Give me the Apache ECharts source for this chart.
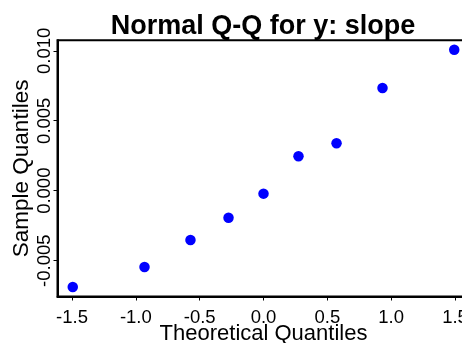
<!DOCTYPE html>
<html>
<head>
<meta charset="utf-8">
<script src="https://cdn.jsdelivr.net/npm/echarts@6/dist/echarts.min.js"></script>
<style>
html,body{margin:0;padding:0;background:#fff;}
#chart{width:462px;height:343px;}
</style>
</head>
<body>
<div id="chart"></div>
<script>
var theoretical = [-1.494, -0.932, -0.572, -0.274, 0, 0.274, 0.572, 0.932, 1.494];
var sample = [-0.00688, -0.00545, -0.00352, -0.00193, -0.00021, 0.00246, 0.00339, 0.00734, 0.01007];
var xTicks = [-1.5, -1.0, -0.5, 0.0, 0.5, 1.0, 1.5];
var yTicks = [-0.005, 0.000, 0.005, 0.010];
var titleText = 'Normal Q-Q for y: slope';
var xName = 'Theoretical Quantiles';
var yName = 'Sample Quantiles';

function pad(arr){
  var mn = Math.min.apply(null, arr), mx = Math.max.apply(null, arr);
  var d = (mx - mn) * 0.04;
  return [mn - d, mx + d];
}
var xr = pad(theoretical), yr = pad(sample);
var pts = theoretical.map(function(t, i){ return [t, sample[i]]; });

var font = 'Liberation Sans, Arial, sans-serif';
var chart = echarts.init(document.getElementById('chart'), null, {renderer:'canvas'});
chart.setOption({
  animation: false,
  backgroundColor: '#fff',
  title: {
    text: titleText,
    left: 258, textAlign: 'center', top: 8,
    textStyle: {fontFamily: font, fontWeight: 'bold', fontSize: 27, color: '#000'}
  },
  grid: {
    left: 57.5, top: 40.3, width: 412, height: 256.2,
    containLabel: false, outerBoundsMode: 'none',
    show: true, borderColor: '#000', borderWidth: 2, backgroundColor: 'transparent'
  },
  xAxis: {
    type: 'value', min: xr[0], max: xr[1],
    name: xName, nameLocation: 'middle', nameGap: 26, nameMoveOverlap: false,
    nameTextStyle: {fontFamily: font, fontSize: 22, color: '#000'},
    axisLine: {show: true, onZero: false, lineStyle: {color: '#000', width: 2}},
    axisTick: {show: true, length: 4, customValues: xTicks, lineStyle: {color: '#000', width: 1}},
    axisLabel: {show: true, customValues: xTicks, margin: 12, fontFamily: font, fontSize: 18.5, color: '#000',
      formatter: function(v){ return v.toFixed(1); }},
    splitLine: {show: false}
  },
  yAxis: {
    type: 'value', min: yr[0], max: yr[1],
    name: yName, nameLocation: 'middle', nameGap: 24, nameRotate: 90, nameMoveOverlap: false,
    nameTextStyle: {fontFamily: font, fontSize: 22.5, color: '#000'},
    axisLine: {show: true, onZero: false, lineStyle: {color: '#000', width: 2}},
    axisTick: {show: true, length: 4, customValues: yTicks, lineStyle: {color: '#000', width: 1}},
    axisLabel: {show: true, customValues: yTicks, rotate: 90, margin: 3, fontFamily: font, fontSize: 18.5, color: '#000',
      formatter: function(v){ return v.toFixed(3); }},
    splitLine: {show: false}
  },
  series: [{
    type: 'scatter',
    data: pts,
    symbol: 'circle',
    symbolSize: 10.5,
    itemStyle: {color: '#0000FF', opacity: 1}
  }]
});
</script>
</body>
</html>
